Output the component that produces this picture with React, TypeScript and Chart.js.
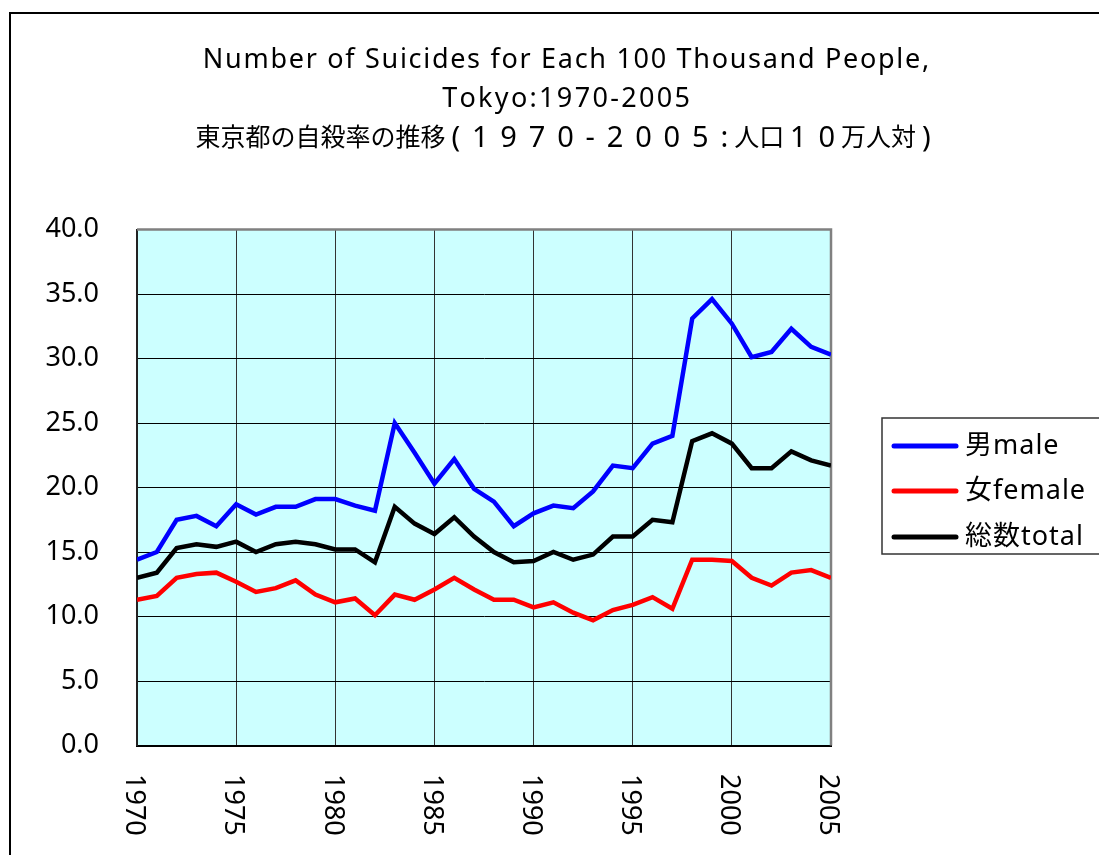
import React, { useEffect, useRef } from "react";
import { Chart, registerables } from "chart.js";

Chart.register(...registerables);

const years: number[] = [
  1970, 1971, 1972, 1973, 1974, 1975, 1976, 1977, 1978, 1979, 1980, 1981,
  1982, 1983, 1984, 1985, 1986, 1987, 1988, 1989, 1990, 1991, 1992, 1993,
  1994, 1995, 1996, 1997, 1998, 1999, 2000, 2001, 2002, 2003, 2004, 2005,
];

const maleValues: number[] = [
  14.4, 15.0, 17.5, 17.8, 17.0, 18.7, 17.9, 18.5, 18.5, 19.1, 19.1, 18.6,
  18.2, 25.0, 22.7, 20.3, 22.2, 19.9, 18.9, 17.0, 18.0, 18.6, 18.4, 19.7,
  21.7, 21.5, 23.4, 24.0, 33.1, 34.6, 32.7, 30.1, 30.5, 32.3, 30.9, 30.3,
];

const femaleValues: number[] = [
  11.3, 11.6, 13.0, 13.3, 13.4, 12.7, 11.9, 12.2, 12.8, 11.7, 11.1, 11.4,
  10.1, 11.7, 11.3, 12.1, 13.0, 12.1, 11.3, 11.3, 10.7, 11.1, 10.3, 9.7,
  10.5, 10.9, 11.5, 10.6, 14.4, 14.4, 14.3, 13.0, 12.4, 13.4, 13.6, 13.0,
];

const totalValues: number[] = [
  13.0, 13.4, 15.3, 15.6, 15.4, 15.8, 15.0, 15.6, 15.8, 15.6, 15.2, 15.2,
  14.2, 18.5, 17.2, 16.4, 17.7, 16.2, 15.0, 14.2, 14.3, 15.0, 14.4, 14.8,
  16.2, 16.2, 17.5, 17.3, 23.6, 24.2, 23.4, 21.5, 21.5, 22.8, 22.1, 21.7,
];

const seriesLabels: string[] = ["男male", "女female", "総数total"];
const seriesColors: string[] = ["#0000FF", "#FF0000", "#000000"];

const xTickLabels: string[] = ["1970", "1975", "1980", "1985", "1990", "1995", "2000", "2005"];

const titleLines: string[] = [
  "Number of Suicides for Each 100 Thousand People,",
  "Tokyo:1970-2005",
  "東京都の自殺率の推移(1970-2005:人口10万人対)",
];

const FONT = '"Noto Sans", "Noto Sans CJK JP", sans-serif';

const isWide = (ch: string) => ch.charCodeAt(0) > 0x2e80;

// Draws text centred at cx; wide (CJK) glyphs keep their natural advance,
// narrow glyphs share the extra spacing needed to reach targetWidth.
function drawSpaced(
  ctx: CanvasRenderingContext2D,
  text: string,
  cx: number,
  cy: number,
  targetWidth: number,
  wideFont: string,
  narrowFont: string
) {
  ctx.save();
  (ctx as any).letterSpacing = "0px";
  ctx.textAlign = "left";
  ctx.textBaseline = "middle";
  ctx.fillStyle = "#000";
  const chars = Array.from(text);
  const widths = chars.map((c) => {
    ctx.font = isWide(c) ? wideFont : narrowFont;
    return ctx.measureText(c).width;
  });
  const natural = widths.reduce((a, b) => a + b, 0);
  const narrowCount = chars.filter((c) => !isWide(c)).length;
  const extra = Math.max(0, targetWidth - natural);
  const per = narrowCount > 0 ? extra / narrowCount : 0;
  let x = cx - (natural + extra) / 2;
  chars.forEach((c, i) => {
    if (isWide(c)) {
      ctx.font = wideFont;
      ctx.fillText(c, x, cy);
      x += widths[i];
    } else {
      ctx.font = narrowFont;
      ctx.fillText(c, x + per / 2, cy);
      x += widths[i] + per;
    }
  });
  ctx.restore();
}

const decorPlugin = {
  id: "decor",
  beforeDraw(chart: any) {
    const { ctx, chartArea } = chart;
    ctx.save();
    ctx.fillStyle = "#FFFFFF";
    ctx.fillRect(0, 0, chart.width, chart.height);
    ctx.fillStyle = "#CCFFFF";
    ctx.fillRect(chartArea.left, chartArea.top, chartArea.right - chartArea.left, chartArea.bottom - chartArea.top);
    ctx.strokeStyle = "#000";
    ctx.lineWidth = 2;
    ctx.strokeRect(10, 13, chart.width + 40, chart.height + 40);
    ctx.restore();
  },
  beforeDatasetsDraw(chart: any) {
    const { ctx, chartArea } = chart;
    ctx.save();
    ctx.strokeStyle = "#808080";
    ctx.lineWidth = 2.5;
    ctx.beginPath();
    ctx.moveTo(chartArea.left, chartArea.top);
    ctx.lineTo(chartArea.right, chartArea.top);
    ctx.lineTo(chartArea.right, chartArea.bottom);
    ctx.stroke();
    ctx.restore();
  },
  afterDraw(chart: any) {
    const { ctx } = chart;
    const cx = 566;
    drawSpaced(ctx, titleLines[0], cx, 60, 728, `27px ${FONT}`, `27px ${FONT}`);
    drawSpaced(ctx, titleLines[1], cx, 99, 250, `27px ${FONT}`, `27px ${FONT}`);
    drawSpaced(ctx, titleLines[2], cx, 139, 741, `25px ${FONT}`, `29px ${FONT}`);

    const xScale = chart.scales.x;
    ctx.save();
    ctx.fillStyle = "#000";
    ctx.font = `27px ${FONT}`;
    ctx.textAlign = "left";
    ctx.textBaseline = "middle";
    xTickLabels.forEach((lab) => {
      const x = xScale.getPixelForValue(Number(lab)) - 3;
      ctx.save();
      ctx.translate(x, 774);
      ctx.rotate(Math.PI / 2);
      ctx.fillText(lab, 0, 0);
      ctx.restore();
    });
    ctx.restore();

    ctx.save();
    ctx.fillStyle = "#FFFFFF";
    ctx.fillRect(882, 418, 300, 136);
    ctx.strokeStyle = "#333";
    ctx.lineWidth = 1.5;
    ctx.strokeRect(882, 418, 300, 136);
    const rowY = [446, 491, 537];
    chart.data.datasets.forEach((ds: any, i: number) => {
      ctx.strokeStyle = ds.borderColor;
      ctx.lineWidth = 5;
      ctx.lineCap = "round";
      ctx.beginPath();
      ctx.moveTo(894, rowY[i]);
      ctx.lineTo(956, rowY[i]);
      ctx.stroke();
      ctx.fillStyle = "#000";
      ctx.font = `27px ${FONT}`;
      (ctx as any).letterSpacing = "1px";
      ctx.textAlign = "left";
      ctx.textBaseline = "middle";
      ctx.fillText(ds.label, 965, rowY[i]);
    });
    ctx.restore();
  },
};

export default function App() {
  const canvasRef = useRef<HTMLCanvasElement | null>(null);

  useEffect(() => {
    if (!canvasRef.current) return;
    const valueSets = [maleValues, femaleValues, totalValues];
    const chart = new Chart(canvasRef.current, {
      type: "line",
      data: {
        datasets: valueSets.map((vals, i) => ({
          label: seriesLabels[i],
          data: years.map((y, j) => ({ x: y, y: vals[j] })),
          borderColor: seriesColors[i],
          backgroundColor: seriesColors[i],
          borderWidth: 4.5,
          pointRadius: 0,
          tension: 0,
          fill: false,
        })),
      },
      options: {
        animation: false,
        responsive: true,
        maintainAspectRatio: false,
        devicePixelRatio: 1,
        layout: { padding: { left: 0, top: 229.5, right: 268, bottom: 0 } },
        plugins: {
          legend: { display: false },
          title: { display: false },
          tooltip: { enabled: false },
        },
        scales: {
          x: {
            type: "linear",
            min: 1970,
            max: 2005,
            ticks: { stepSize: 5, display: false },
            grid: { color: "#333", lineWidth: 1, drawTicks: false },
            border: { color: "#000", width: 2 },
            afterFit: (scale: any) => {
              scale.height = 109.5;
            },
          },
          y: {
            min: 0,
            max: 40,
            ticks: {
              stepSize: 5,
              padding: 38,
              color: "#000",
              font: { family: FONT, size: 27 },
              callback: (v: any) => Number(v).toFixed(1),
            },
            grid: { color: "#000", lineWidth: 1, drawTicks: false },
            border: { color: "#222", width: 2 },
            afterFit: (scale: any) => {
              scale.width = 137;
            },
          },
        },
      } as any,
      plugins: [decorPlugin],
    });
    return () => chart.destroy();
  }, []);

  return (
    <div style={{ position: "fixed", left: 0, top: 0, width: 1099, height: 855, background: "#fff" }}>
      <canvas ref={canvasRef} />
    </div>
  );
}
